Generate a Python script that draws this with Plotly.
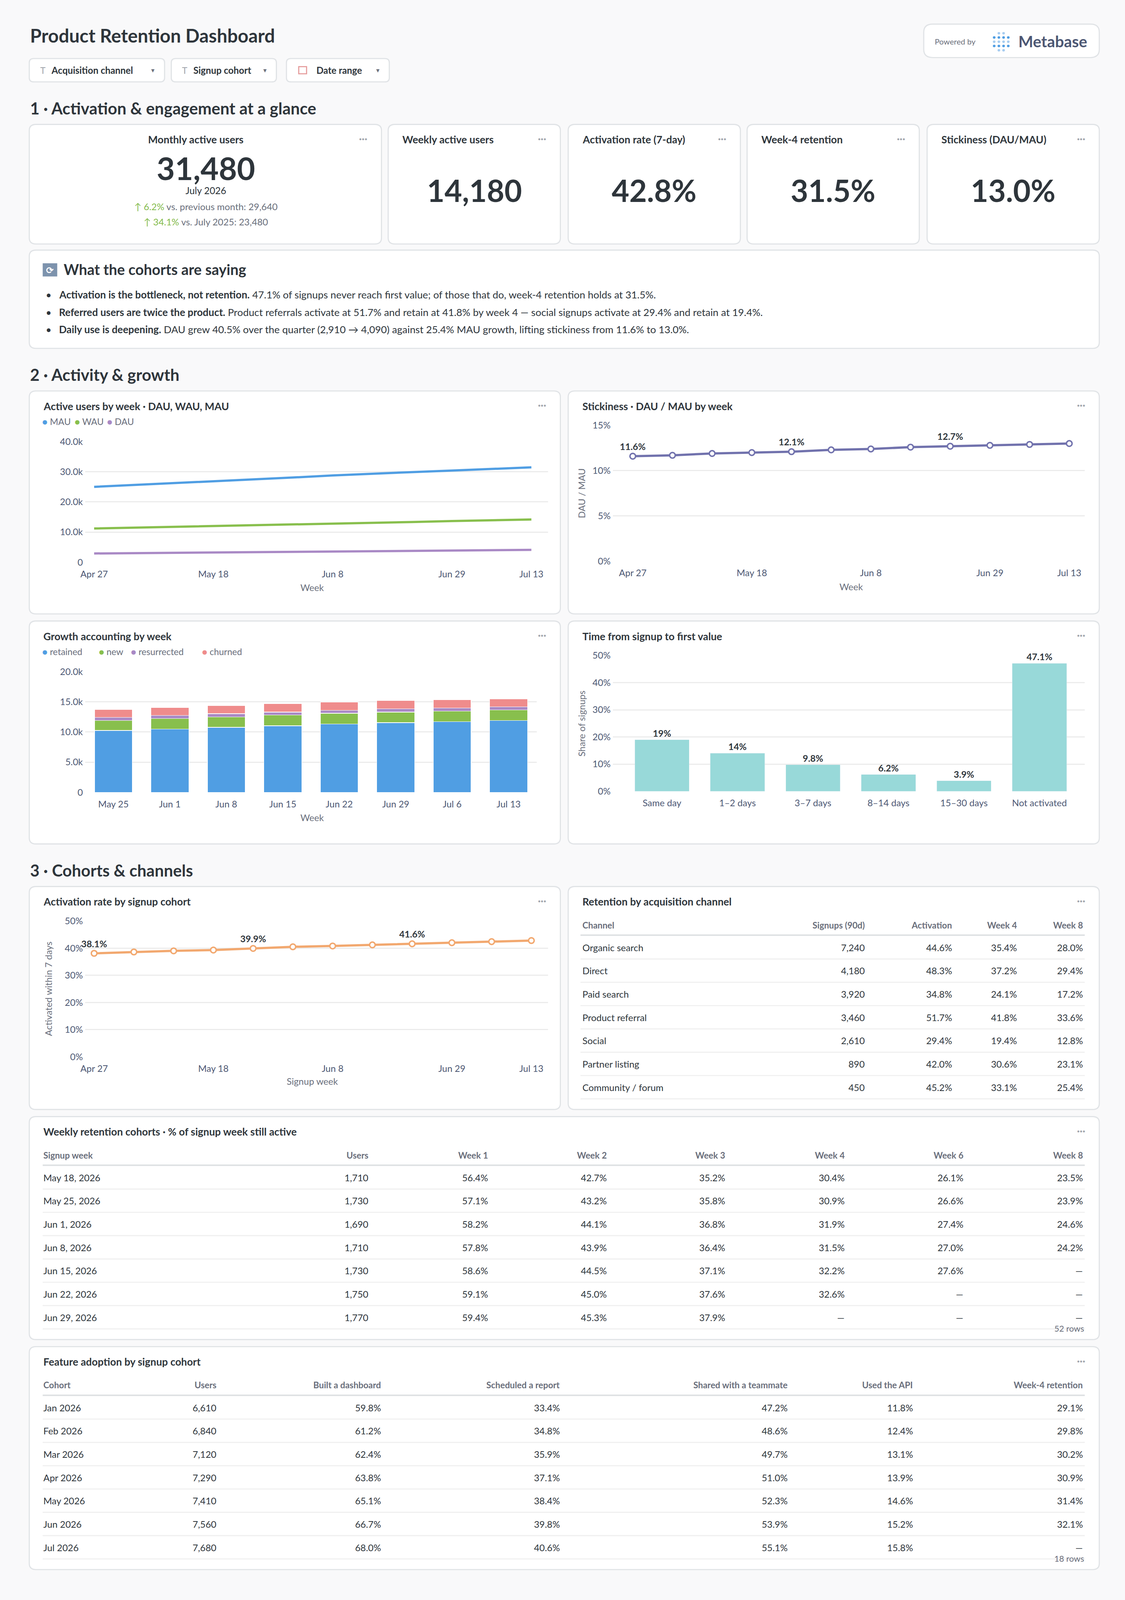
import plotly.graph_objects as go

# ---- data -------------------------------------------------------------
weeks = ["Apr 27", "May 4", "May 11", "May 18", "May 25", "Jun 1", "Jun 8",
         "Jun 15", "Jun 22", "Jun 29", "Jul 6", "Jul 13"]
week_ticks = ["Apr 27", "May 18", "Jun 8", "Jun 29", "Jul 13"]
mau = [25000, 25600, 26200, 26800, 27400, 28100, 28800, 29400, 29900, 30400, 30900, 31480]
wau = [11200, 11450, 11700, 11950, 12200, 12450, 12750, 13050, 13350, 13650, 13900, 14180]
dau = [2910, 3010, 3110, 3210, 3320, 3430, 3540, 3650, 3760, 3870, 3980, 4090]
stickiness = [11.6, 11.7, 11.9, 12.0, 12.1, 12.3, 12.4, 12.6, 12.7, 12.8, 12.9, 13.0]
stick_label_idx = [0, 4, 8]

growth_weeks = ["May 25", "Jun 1", "Jun 8", "Jun 15", "Jun 22", "Jun 29", "Jul 6", "Jul 13"]
retained = [10250, 10500, 10770, 11030, 11300, 11550, 11700, 11890]
new_users = [1680, 1700, 1730, 1770, 1800, 1750, 1750, 1760]
resurrected = [470, 550, 540, 500, 500, 550, 520, 510]
churned = [1340, 1300, 1320, 1370, 1380, 1350, 1360, 1340]

ttv_buckets = ["Same day", "1–2 days", "3–7 days", "8–14 days", "15–30 days", "Not activated"]
ttv_share = [19, 14, 9.8, 6.2, 3.9, 47.1]

activation = [38.1, 38.6, 39.0, 39.3, 39.9, 40.5, 40.8, 41.2, 41.6, 42.0, 42.4, 42.8]
act_label_idx = [0, 4, 8]

kpi_titles = ["Weekly active users", "Activation rate (7-day)", "Week-4 retention", "Stickiness (DAU/MAU)"]
kpi_values = ["14,180", "42.8%", "31.5%", "13.0%"]

channel_cols = ["Channel", "Signups (90d)", "Activation", "Week 4", "Week 8"]
channels = ["Organic search", "Direct", "Paid search", "Product referral", "Social", "Partner listing", "Community / forum"]
ch_signups = ["7,240", "4,180", "3,920", "3,460", "2,610", "890", "450"]
ch_activation = ["44.6%", "48.3%", "34.8%", "51.7%", "29.4%", "42.0%", "45.2%"]
ch_week4 = ["35.4%", "37.2%", "24.1%", "41.8%", "19.4%", "30.6%", "33.1%"]
ch_week8 = ["28.0%", "29.4%", "17.2%", "33.6%", "12.8%", "23.1%", "25.4%"]

cohort_cols = ["Signup week", "Users", "Week 1", "Week 2", "Week 3", "Week 4", "Week 6", "Week 8"]
cohort_weeks = ["May 18, 2026", "May 25, 2026", "Jun 1, 2026", "Jun 8, 2026", "Jun 15, 2026", "Jun 22, 2026", "Jun 29, 2026"]
cohort_users = ["1,710", "1,730", "1,690", "1,710", "1,730", "1,750", "1,770"]
cohort_w1 = ["56.4%", "57.1%", "58.2%", "57.8%", "58.6%", "59.1%", "59.4%"]
cohort_w2 = ["42.7%", "43.2%", "44.1%", "43.9%", "44.5%", "45.0%", "45.3%"]
cohort_w3 = ["35.2%", "35.8%", "36.8%", "36.4%", "37.1%", "37.6%", "37.9%"]
cohort_w4 = ["30.4%", "30.9%", "31.9%", "31.5%", "32.2%", "32.6%", "—"]
cohort_w6 = ["26.1%", "26.6%", "27.4%", "27.0%", "27.6%", "—", "—"]
cohort_w8 = ["23.5%", "23.9%", "24.6%", "24.2%", "—", "—", "—"]

feat_cols = ["Cohort", "Users", "Built a dashboard", "Scheduled a report", "Shared with a teammate", "Used the API", "Week-4 retention"]
feat_cohorts = ["Jan 2026", "Feb 2026", "Mar 2026", "Apr 2026", "May 2026", "Jun 2026", "Jul 2026"]
feat_users = ["6,610", "6,840", "7,120", "7,290", "7,410", "7,560", "7,680"]
feat_dash = ["59.8%", "61.2%", "62.4%", "63.8%", "65.1%", "66.7%", "68.0%"]
feat_report = ["33.4%", "34.8%", "35.9%", "37.1%", "38.4%", "39.8%", "40.6%"]
feat_share = ["47.2%", "48.6%", "49.7%", "51.0%", "52.3%", "53.9%", "55.1%"]
feat_api = ["11.8%", "12.4%", "13.1%", "13.9%", "14.6%", "15.2%", "15.8%"]
feat_w4 = ["29.1%", "29.8%", "30.2%", "30.9%", "31.4%", "32.1%", "—"]

# ---- helpers (design in 1002x1568 units, scaled to 2880 wide) ----------
W, H = 1002, 1568
S = 2880 / W
FONT = "Lato, Noto Sans, sans-serif"
DARK = "#2e353b"
GREY = "#696e7b"
TICK = "#4c5773"
GREEN = "#84bb4c"
BORDER = "#e0e3e6"

def px_(x): return x / W
def py_(y): return 1 - y / H
def f(s): return round(s * S, 1)

annotations, shapes = [], []

def txt(x, y, s, size, color=DARK, anchor="left", weight=400, angle=0):
    annotations.append(dict(x=px_(x), y=py_(y), xref="paper", yref="paper", text=s,
                            showarrow=False, xanchor=anchor, yanchor="middle", textangle=angle,
                            font=dict(size=f(size), color=color, family=FONT, weight=weight)))

def rrect(x0, y0, x1, y1, r=6, fill="white", line=BORDER, lw=1):
    rx, ry = r / W, r / H
    a0, a1, b0, b1 = px_(x0), px_(x1), py_(y1), py_(y0)
    path = (f"M {a0+rx},{b0} L {a1-rx},{b0} Q {a1},{b0} {a1},{b0+ry} L {a1},{b1-ry} "
            f"Q {a1},{b1} {a1-rx},{b1} L {a0+rx},{b1} Q {a0},{b1} {a0},{b1-ry} "
            f"L {a0},{b0+ry} Q {a0},{b0} {a0+rx},{b0} Z")
    shapes.append(dict(type="path", path=path, xref="paper", yref="paper",
                       fillcolor=fill, line=dict(color=line, width=lw * S), layer="below"))

def hline(x0, x1, y, color="#eeeeee", w=1):
    shapes.append(dict(type="line", xref="paper", yref="paper", x0=px_(x0), x1=px_(x1),
                       y0=py_(y), y1=py_(y), line=dict(color=color, width=w * S)))

def dots(x, y):
    txt(x, y, "···", 9, "#a0a4ab", "right", 700)

def card(x0, y0, x1, y1, title=None, title_y=None):
    rrect(x0, y0, x1, y1)
    if title:
        ty = title_y if title_y else y0 + 15
        txt(x0 + 12, ty, title, 9.2, DARK, weight=700)
        dots(x1 - 12, ty - 1)

layout = {}

def axes(n, xd, yd, xkw, ykw):
    sx = "" if n == 1 else str(n)
    layout["xaxis" + sx] = dict(domain=[px_(xd[0]), px_(xd[1])], anchor="y" + sx,
                                showgrid=False, zeroline=False, showline=False, ticks="",
                                ticklabelstandoff=int(5 * S), fixedrange=True,
                                tickfont=dict(size=f(8.2), color=TICK, family=FONT), **xkw)
    layout["yaxis" + sx] = dict(domain=[py_(yd[1]), py_(yd[0])], anchor="x" + sx,
                                showgrid=True, gridcolor="#ececec", gridwidth=S, zeroline=False,
                                showline=False, ticks="", fixedrange=True, ticklabelstandoff=int(2 * S),
                                tickfont=dict(size=f(8.2), color=TICK, family=FONT), **ykw)

def pct_ticks(vals):
    return dict(tickvals=vals, ticktext=[f"{v}%" for v in vals])

# ---- header ----------------------------------------------------------
txt(22, 29, "Product Retention Dashboard", 16.5, DARK, weight=700)
for (x0, x1, label, icon) in [(22, 143, "Acquisition channel", "T"), (149, 243, "Signup cohort", "T"),
                              (252, 344, "Date range", "")]:
    rrect(x0, 52, x1, 75, r=4)
    if icon:
        txt(x0 + 9, 63.5, icon, 8, "#a0a4ab", "left")
        lx = x0 + 19
    else:
        shapes.append(dict(type="rect", xref="paper", yref="paper", x0=px_(x0 + 11), x1=px_(x0 + 18),
                           y0=py_(67), y1=py_(60), line=dict(color="#e59c9c", width=S), fillcolor="white"))
        lx = x0 + 26
    txt(lx, 63.5, label, 8.3, DARK, weight=700)
    txt(x1 - 8, 63.5, "▾", 6, GREY, "right")

rrect(822, 18, 979, 51, r=8)
txt(831, 35, "Powered by", 7, GREY)
for ci in range(4):
    for ri in range(5):
        if (ci in (0, 3)) and ri in (0, 4):
            continue
        cx, cy = 885 + ci * 4.2, 27 + ri * 4.2
        shapes.append(dict(type="circle", xref="paper", yref="paper", x0=px_(cx - 1.2), x1=px_(cx + 1.2),
                           y0=py_(cy + 1.2), y1=py_(cy - 1.2), fillcolor="#509ee3" if ri % 2 else "#a8cdf0",
                           line=dict(width=0)))
txt(906, 35, "Metabase", 14, "#4c5773", weight=700)

# ---- section 1 --------------------------------------------------------
txt(22, 101, "1 · Activation & engagement at a glance", 14.5, DARK, weight=700)
rrect(22, 117, 337, 235)
txt(171, 132, "Monthly active users", 9.2, DARK, "center", 700)
dots(325, 131)
txt(180, 160, "31,480", 28, DARK, "center", 700)
txt(180, 182, "July 2026", 8.5, DARK, "center")
txt(180, 198, f"<span style='color:{GREEN}'>↑ 6.2%</span> vs. previous month: 29,640", 8.3, GREY, "center")
txt(180, 213, f"<span style='color:{GREEN}'>↑ 34.1%</span> vs. July 2025: 23,480", 8.3, GREY, "center")
kx = [(343, 497), (504, 658), (664, 818), (825, 979)]
for (x0, x1), t, v in zip(kx, kpi_titles, kpi_values):
    rrect(x0, 117, x1, 235)
    txt(x0 + 12, 132, t, 9.2, DARK, weight=700)
    dots(x1 - 12, 131)
    txt((x0 + x1) / 2, 182, v, 27, DARK, "center", 700)

rrect(22, 241, 979, 338)
shapes.append(dict(type="rect", xref="paper", yref="paper", x0=px_(34), x1=px_(47), y0=py_(267), y1=py_(254),
                   fillcolor="#7d93ad", line=dict(width=0)))
txt(40.5, 260.5, "⟳", 8, "white", "center", 700)
txt(52, 260, "What the cohorts are saying", 13, DARK, weight=700)
bullets = [
    "<b>Activation is the bottleneck, not retention.</b> 47.1% of signups never reach first value; of those that do, week-4 retention holds at 31.5%.",
    "<b>Referred users are twice the product.</b> Product referrals activate at 51.7% and retain at 41.8% by week 4 — social signups activate at 29.4% and retain at 19.4%.",
    "<b>Daily use is deepening.</b> DAU grew 40.5% over the quarter (2,910 → 4,090) against 25.4% MAU growth, lifting stickiness from 11.6% to 13.0%.",
]
for i, b in enumerate(bullets):
    txt(36, 285 + 17 * i, "•", 9, DARK)
    txt(48, 285 + 17 * i, b, 9.0, DARK)

# ---- section 2 --------------------------------------------------------
txt(22, 364, "2 · Activity & growth", 14.5, DARK, weight=700)
card(22, 380, 497, 600, "Active users by week · DAU, WAU, MAU", 395)
card(504, 380, 979, 600, "Stickiness · DAU / MAU by week", 395)
card(22, 607, 497, 827, "Growth accounting by week", 622)
card(504, 607, 979, 827, "Time from signup to first value", 622)

def legend(x, y, items):
    for name, col in items:
        txt(x, y, f"<span style='color:{col}'>●</span> {name}", 8, GREY)
        x += 16 + len(name) * 4.3

BLUE, GREENL, PURP, RED, TEAL, ORANGE, INDIGO = "#509ee3", "#88bf4d", "#a989c5", "#ef8c8c", "#98d9d9", "#f2a86f", "#7172ad"
legend(33, 410, [("MAU", BLUE), ("WAU", GREENL), ("DAU", PURP)])
legend(33, 637, [("retained", BLUE), ("new", GREENL), ("resurrected", PURP), ("churned", RED)])

data = []
# 1: active users
axes(1, (72, 486), (430, 549),
     dict(type="category", range=[-0.225, 11.42], tickvals=week_ticks),
     dict(range=[0, 40000], tickvals=[0, 10000, 20000, 30000, 40000],
          ticktext=["0", "10.0k", "20.0k", "30.0k", "40.0k"]))
for name, ys, col in [("MAU", mau, BLUE), ("WAU", wau, GREENL), ("DAU", dau, PURP)]:
    data.append(go.Scatter(x=weeks, y=ys, name=name, mode="lines", line=dict(color=col, width=2 * S),
                           xaxis="x", yaxis="y"))
txt(275, 574, "Week", 8.2, GREY, "center")

# 2: stickiness
axes(2, (544, 966), (414, 548),
     dict(type="category", range=[-0.5, 11.39], tickvals=week_ticks),
     dict(range=[0, 15], **pct_ticks([0, 5, 10, 15])))
data.append(go.Scatter(x=weeks, y=stickiness, mode="lines+markers+text",
                       text=[f"{v}%" if i in stick_label_idx else "" for i, v in enumerate(stickiness)],
                       textposition="top center", textfont=dict(size=f(8.2), color=DARK, family=FONT, weight=700),
                       line=dict(color=INDIGO, width=2 * S),
                       marker=dict(size=5 * S, color="white", line=dict(color=INDIGO, width=1.3 * S)),
                       xaxis="x2", yaxis="y2"))
txt(757, 573, "Week", 8.2, GREY, "center")
txt(516, 481, "DAU / MAU", 8.2, GREY, "center", angle=-90)

# 3: growth accounting
axes(3, (72, 476), (657, 776),
     dict(type="category"),
     dict(range=[0, 20000], tickvals=[0, 5000, 10000, 15000, 20000],
          ticktext=["0", "5.0k", "10.0k", "15.0k", "20.0k"]))
for name, ys, col in [("retained", retained, BLUE), ("new", new_users, GREENL),
                      ("resurrected", resurrected, PURP), ("churned", churned, RED)]:
    data.append(go.Bar(x=growth_weeks, y=ys, name=name, marker=dict(color=col, line=dict(color="white", width=0.4 * S)),
                       xaxis="x3", yaxis="y3"))
txt(275, 801, "Week", 8.2, GREY, "center")

# 4: time to first value
axes(4, (544, 966), (641, 775),
     dict(type="category", range=[-0.65, 5.6]),
     dict(range=[0, 50], **pct_ticks([0, 10, 20, 30, 40, 50])))
data.append(go.Bar(x=ttv_buckets, y=ttv_share, marker=dict(color=TEAL), text=[f"{v:g}%" for v in ttv_share],
                   textposition="outside", textfont=dict(size=f(8.2), color=DARK, family=FONT, weight=700),
                   cliponaxis=False, xaxis="x4", yaxis="y4"))
txt(516, 708, "Share of signups", 8.2, GREY, "center", angle=-90)

# ---- section 3 --------------------------------------------------------
txt(22, 853, "3 · Cohorts & channels", 14.5, DARK, weight=700)
card(22, 869, 497, 1089, "Activation rate by signup cohort", 884)
axes(5, (72, 486), (903, 1037),
     dict(type="category", range=[-0.225, 11.42], tickvals=week_ticks),
     dict(range=[0, 50], **pct_ticks([0, 10, 20, 30, 40, 50])))
data.append(go.Scatter(x=weeks, y=activation, mode="lines+markers+text",
                       text=[f"{v}%" if i in act_label_idx else "" for i, v in enumerate(activation)],
                       textposition="top center", textfont=dict(size=f(8.2), color=DARK, family=FONT, weight=700),
                       line=dict(color=ORANGE, width=2 * S), cliponaxis=False,
                       marker=dict(size=5 * S, color="white", line=dict(color=ORANGE, width=1.3 * S)),
                       xaxis="x5", yaxis="y5"))
txt(275, 1061, "Signup week", 8.2, GREY, "center")
txt(39, 970, "Activated within 7 days", 8.2, GREY, "center", angle=-90)

def table(x_left, x_right, header_y, cols, col_x, rows, row_y0, step=23, footer=None):
    for j, c in enumerate(cols):
        txt(col_x[j], header_y, c, 7.8, GREY, "left" if j == 0 else "right", 700)
    hline(x_left, x_right, header_y + 10, "#dfe2e4", 1.4)
    for i, row in enumerate(rows):
        y = row_y0 + step * i
        for j, v in enumerate(row):
            txt(col_x[j], y, v, 8.3, DARK, "left" if j == 0 else "right")
        hline(x_left, x_right, y + 11.5, "#f0f0f0", 1)
    if footer:
        txt(x_right, footer[0], footer[1], 7.5, GREY, "right")

card(504, 869, 979, 1089, "Retention by acquisition channel", 884)
table(515, 966, 907, channel_cols, [516, 770, 848, 906, 965],
      list(zip(channels, ch_signups, ch_activation, ch_week4, ch_week8)), 929)

card(22, 1096, 979, 1316, "Weekly retention cohorts · % of signup week still active", 1111)
table(34, 966, 1134, cohort_cols, [34, 326, 433, 539, 645, 752, 858, 965],
      list(zip(cohort_weeks, cohort_users, cohort_w1, cohort_w2, cohort_w3, cohort_w4, cohort_w6, cohort_w8)),
      1156, footer=(1305, "52 rows"))

card(22, 1323, 979, 1543, "Feature adoption by signup cohort", 1338)
table(34, 966, 1361, feat_cols, [34, 190, 337, 497, 701, 813, 965],
      list(zip(feat_cohorts, feat_users, feat_dash, feat_report, feat_share, feat_api, feat_w4)),
      1383, footer=(1532, "18 rows"))

fig = go.Figure(data=data)
fig.update_layout(autosize=True, margin=dict(l=0, r=0, t=0, b=0, pad=0),
                  paper_bgcolor="#f9f9fa", plot_bgcolor="rgba(0,0,0,0)", showlegend=False,
                  barmode="stack", bargap=0.33, font=dict(family=FONT, color=DARK),
                  annotations=annotations, shapes=shapes, **layout)
fig.update_traces(selector=dict(xaxis="x4"), width=0.72)
fig.write_html("out.html", default_width="100vw", default_height="100vh",
               config={"displayModeBar": False, "responsive": True},
               post_script="document.body.style.margin='0';document.body.style.overflow='hidden';")
